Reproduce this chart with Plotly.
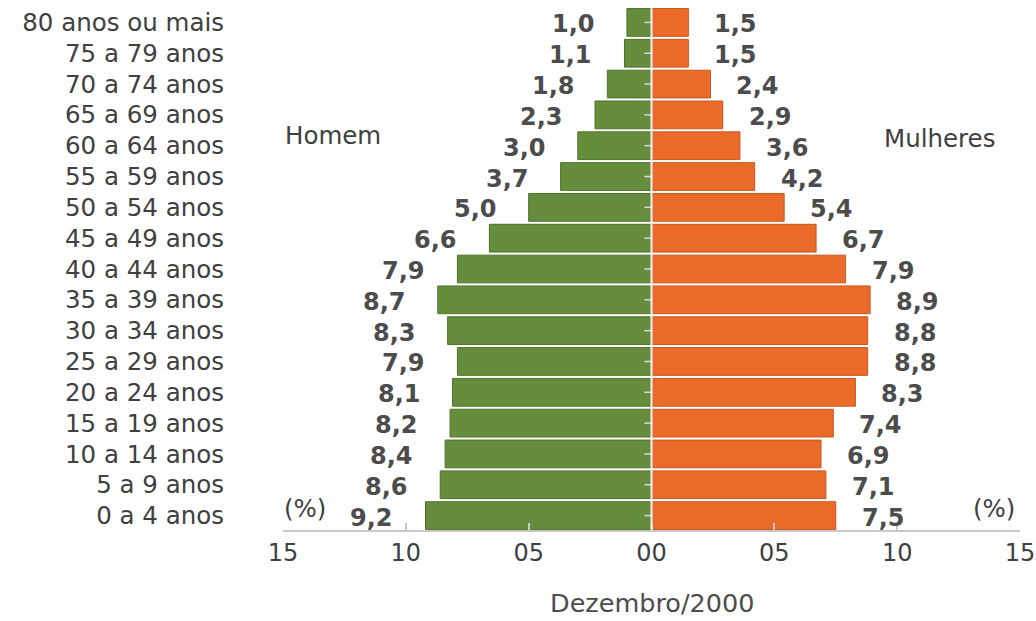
import plotly.graph_objects as go

# Faixas etárias, da mais jovem para a mais velha (de baixo para cima)
faixas = [
    "0 a 4 anos", "5 a 9 anos", "10 a 14 anos", "15 a 19 anos", "20 a 24 anos",
    "25 a 29 anos", "30 a 34 anos", "35 a 39 anos", "40 a 44 anos", "45 a 49 anos",
    "50 a 54 anos", "55 a 59 anos", "60 a 64 anos", "65 a 69 anos", "70 a 74 anos",
    "75 a 79 anos", "80 anos ou mais",
]
homens = [9.2, 8.6, 8.4, 8.2, 8.1, 7.9, 8.3, 8.7, 7.9, 6.6, 5.0, 3.7, 3.0, 2.3, 1.8, 1.1, 1.0]
mulheres = [7.5, 7.1, 6.9, 7.4, 8.3, 8.8, 8.8, 8.9, 7.9, 6.7, 5.4, 4.2, 3.6, 2.9, 2.4, 1.5, 1.5]

tick_vals = [-15, -10, -5, 0, 5, 10, 15]
tick_text = ["15", "10", "05", "00", "05", "10", "15"]

VERDE = "#658d3b"
VERDE_BORDA = "#4f7428"
LARANJA = "#ea6a2a"
LARANJA_BORDA = "#c9561c"
TEXTO = "#404040"
EIXO = "#c8c8c8"
FONTE = "DejaVu Sans"

fig = go.Figure()
fig.add_trace(go.Bar(
    y=faixas, x=[-v for v in homens], orientation="h", name="Homem",
    marker=dict(color=VERDE, line=dict(color=VERDE_BORDA, width=1)),
    hoverinfo="skip",
))
fig.add_trace(go.Bar(
    y=faixas, x=mulheres, orientation="h", name="Mulheres",
    marker=dict(color=LARANJA, line=dict(color=LARANJA_BORDA, width=1)),
    hoverinfo="skip",
))

# pequenas marcas do eixo central
fig.add_trace(go.Scatter(
    y=faixas, x=[-0.12] * len(faixas), mode="markers",
    marker=dict(symbol="line-ew", size=6, line=dict(color="#d9d9d9", width=1.5)),
    hoverinfo="skip", showlegend=False,
))

# dimensões da figura e conversão de pixels para coordenadas de papel
W, H = 1036, 621
L, R, T, B = 283, 16, 7, 90
pw, ph = W - L - R, H - T - B


def px(xp, yp):
    return (xp - L) / pw, 1 - (yp - T) / ph


valor_font = dict(family=FONTE, size=24, color="#4c4c4c", weight="bold")
anot = []
for f, h, m in zip(faixas, homens, mulheres):
    anot.append(dict(x=-h, y=f, text=f"{h:.1f}".replace(".", ","), showarrow=False,
                     xanchor="right", xshift=-30, yshift=-2, font=valor_font))
    anot.append(dict(x=m, y=f, text=f"{m:.1f}".replace(".", ","), showarrow=False,
                     xanchor="left", xshift=24, yshift=-2, font=valor_font))

txt = dict(family=FONTE, size=24.5, color=TEXTO)
for xp, yp, texto, anchor in [
    (283, 135, "Homem", "left"),
    (997, 138, "Mulheres", "right"),
    (282, 508, "(%)", "left"),
    (1017, 508, "(%)", "right"),
]:
    ax_, ay_ = px(xp, yp)
    anot.append(dict(x=ax_, y=ay_, xref="paper", yref="paper", text=texto, showarrow=False,
                     xanchor=anchor, yanchor="middle", font=txt))
dx, dy = px(652, 603)
anot.append(dict(x=dx, y=dy, xref="paper", yref="paper", text="Dezembro/2000",
                 showarrow=False, xanchor="center", yanchor="middle",
                 font=dict(family=FONTE, size=25.5, color="#4c4c4c")))

fig.update_layout(
    width=W, height=H,
    margin=dict(l=L, r=R, t=T, b=B),
    paper_bgcolor="white", plot_bgcolor="white",
    barmode="relative", bargap=0.1,
    showlegend=False,
    annotations=anot,
    shapes=[
        dict(type="line", xref="x", yref="paper", x0=0, x1=0, y0=0, y1=1,
             line=dict(color="#f2f2f2", width=2)),
        dict(type="line", xref="x", yref="paper", x0=-15, x1=15, y0=0, y1=0,
             line=dict(color=EIXO, width=2)),
    ],
    xaxis=dict(
        range=[-15, 15], tickvals=tick_vals, ticktext=tick_text,
        showgrid=False, zeroline=False, showline=False,
        ticks="inside", ticklen=8, tickcolor=EIXO, tickwidth=2,
        ticklabelstandoff=5,
        tickfont=dict(family=FONTE, size=24, color=TEXTO), automargin=False,
    ),
    yaxis=dict(
        categoryorder="array", categoryarray=faixas,
        range=[-0.5, len(faixas) - 0.5],
        showgrid=False, zeroline=False, showline=False, ticks="",
        ticklabelstandoff=58,
        tickfont=dict(family=FONTE, size=24.5, color=TEXTO), automargin=False,
    ),
)

fig.write_html("out.html")
